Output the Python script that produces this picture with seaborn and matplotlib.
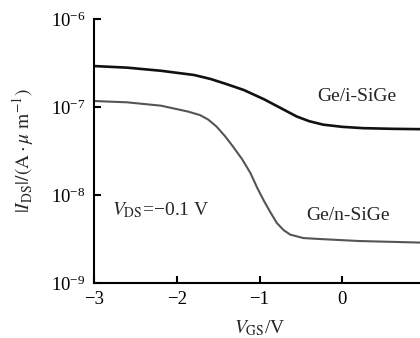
import matplotlib
matplotlib.use("Agg")
import matplotlib.pyplot as plt
import seaborn as sns
import numpy as np
import pandas as pd
from matplotlib.ticker import LogLocator, LogFormatterMathtext, NullLocator

# Data (V_GS in V, |I_DS| in A/um)
vgs_i = [-3.0, -2.60, -2.19, -1.79, -1.59, -1.39, -1.19, -0.95, -0.75, -0.55, -0.40, -0.23, 0.0, 0.25, 0.60, 0.94]
ids_i = [2.92e-7, 2.80e-7, 2.58e-7, 2.31e-7, 2.08e-7, 1.81e-7, 1.56e-7, 1.23e-7, 9.8e-8, 7.8e-8, 6.9e-8, 6.3e-8, 5.95e-8, 5.75e-8, 5.65e-8, 5.6e-8]

vgs_n = [-3.0, -2.60, -2.19, -1.87, -1.72, -1.62, -1.52, -1.42, -1.32, -1.21, -1.11, -1.03, -0.95, -0.87, -0.79, -0.71, -0.63, -0.47, -0.27, 0.2, 0.94]
ids_n = [1.17e-7, 1.13e-7, 1.035e-7, 8.9e-8, 8.1e-8, 7.2e-8, 6.0e-8, 4.7e-8, 3.55e-8, 2.55e-8, 1.78e-8, 1.22e-8, 8.7e-9, 6.4e-9, 4.8e-9, 4.0e-9, 3.55e-9, 3.24e-9, 3.16e-9, 3.0e-9, 2.88e-9]

series = ["Ge/i-SiGe", "Ge/n-SiGe"]
colors = ["#111111", "#555555"]

df = pd.DataFrame({
    "VGS": vgs_i + vgs_n,
    "IDS": ids_i + ids_n,
    "device": [series[0]] * len(vgs_i) + [series[1]] * len(vgs_n),
})

sns.set_style("ticks")
plt.rcParams["font.family"] = ["Liberation Serif", "DejaVu Serif"]
plt.rcParams["mathtext.fontset"] = "stix"

fig = plt.figure(figsize=(4.2, 3.38), dpi=100)
ax = fig.add_axes([94 / 420, 55 / 338, 331 / 420, 264 / 338])

sns.lineplot(data=df, x="VGS", y="IDS", hue="device", palette=dict(zip(series, colors)),
             ax=ax, legend=False, linewidth=1.8)
for ln, lw in zip(ax.lines, [1.9, 1.5]):
    ln.set_linewidth(lw)
    ln.set_solid_joinstyle("round")

ax.set_yscale("log")
ax.set_xlim(-3, 1)
ax.set_ylim(1e-9, 1e-6)
ax.set_xticks([-3, -2, -1, 0, 1])
ax.set_xticklabels(["\u22123", "\u22122", "\u22121", "0", "1"])
ax.yaxis.set_major_locator(LogLocator(base=10, numticks=10))
ax.yaxis.set_major_formatter(LogFormatterMathtext())
ax.yaxis.set_minor_locator(NullLocator())

for s in ["top", "right"]:
    ax.spines[s].set_visible(False)
for s in ["left", "bottom"]:
    ax.spines[s].set_linewidth(1.5)
    ax.spines[s].set_color("black")
ax.tick_params(axis="both", direction="in", length=5, width=1.5, labelsize=13.5, colors="black", pad=6)

ax.set_xlabel(r"$V_{\mathrm{GS}}$/V", fontsize=14, labelpad=7)
ax.set_ylabel(r"$|I_{\mathrm{DS}}|/(\mathrm{A}\cdot\mu\ \mathrm{m}^{-1})$", fontsize=14, labelpad=11)

ax.text(0.18, 1.3e-7, series[0], fontsize=14, ha="center", va="center")
ax.text(0.07, 5.9e-9, series[1], fontsize=14, ha="center", va="center")
ax.text(-2.78, 6.8e-9, "$V_{\\mathrm{DS}}$=\u22120.1 V", fontsize=14, ha="left", va="center")

fig.savefig("out.png", dpi=100)
